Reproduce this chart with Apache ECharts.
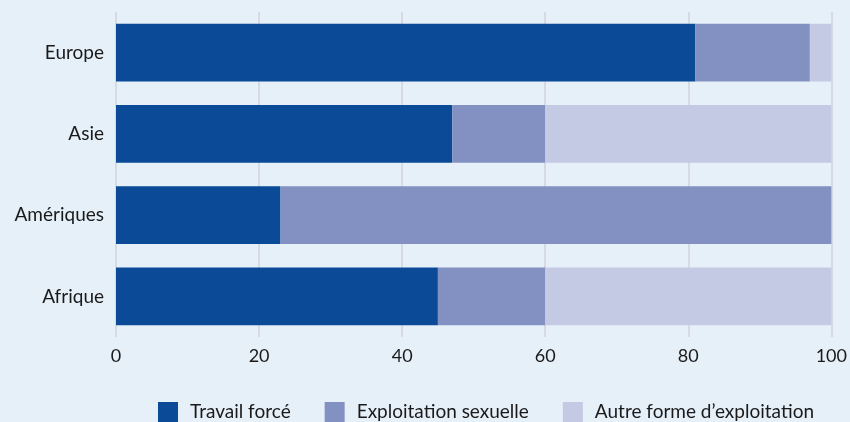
<!DOCTYPE html>
<html>
<head>
<meta charset="utf-8">
<script src="https://cdn.jsdelivr.net/npm/echarts@6/dist/echarts.min.js"></script>
<style>
  html, body { margin: 0; padding: 0; background: #e6f0f9; }
  #chart { width: 850px; height: 422px; }
</style>
</head>
<body>
<div id="chart"></div>
<script>
// régions (de haut en bas)
const regions = ['Europe', 'Asie', 'Amériques', 'Afrique']
// parts en %
const travailForce = [81, 47, 23, 45]
const exploitSexuelle = [16, 13, 77, 15]
const autreForme = [3, 40, 0, 40]
const xTicks = [0, 20, 40, 60, 80, 100]

const FONT = 'Lato, "Open Sans", sans-serif'
const TEXT = '#1a1a1a'

const chart = echarts.init(document.getElementById('chart'))

function bar(name, data, color) {
  return {
    name, type: 'bar', stack: 'total', data,
    barCategoryGap: '29%',
    itemStyle: { color },
    emphasis: { disabled: true },
  }
}

chart.setOption({
  animation: false,
  backgroundColor: '#e6f0f9',
  textStyle: { fontFamily: FONT },
  grid: { left: 116, right: 16, top: 12, bottom: 85, containLabel: false },
  xAxis: {
    type: 'value', min: xTicks[0], max: xTicks[xTicks.length - 1], interval: 20,
    axisLine: { show: false }, axisTick: { show: false },
    axisLabel: { color: TEXT, fontSize: 18, margin: 10, fontFamily: FONT },
    splitLine: { lineStyle: { color: '#d2d5d9', width: 1.5 } },
  },
  yAxis: {
    type: 'category', data: regions, inverse: true,
    axisLine: { show: false }, axisTick: { show: false },
    axisLabel: { color: TEXT, fontSize: 19, margin: 12, fontFamily: FONT },
  },
  legend: {
    left: 153, top: 397,
    itemWidth: 20, itemHeight: 20, itemGap: 34,
    icon: 'rect',
    textStyle: { color: TEXT, fontSize: 19, fontFamily: FONT, padding: [0, 0, 0, 7] },
    data: ['Travail forcé', 'Exploitation sexuelle', 'Autre forme d’exploitation'],
  },
  series: [
    bar('Travail forcé', travailForce, '#0a4a97'),
    bar('Exploitation sexuelle', exploitSexuelle, '#8390c2'),
    bar('Autre forme d’exploitation', autreForme, '#c5cae4'),
  ],
})
</script>
</body>
</html>
